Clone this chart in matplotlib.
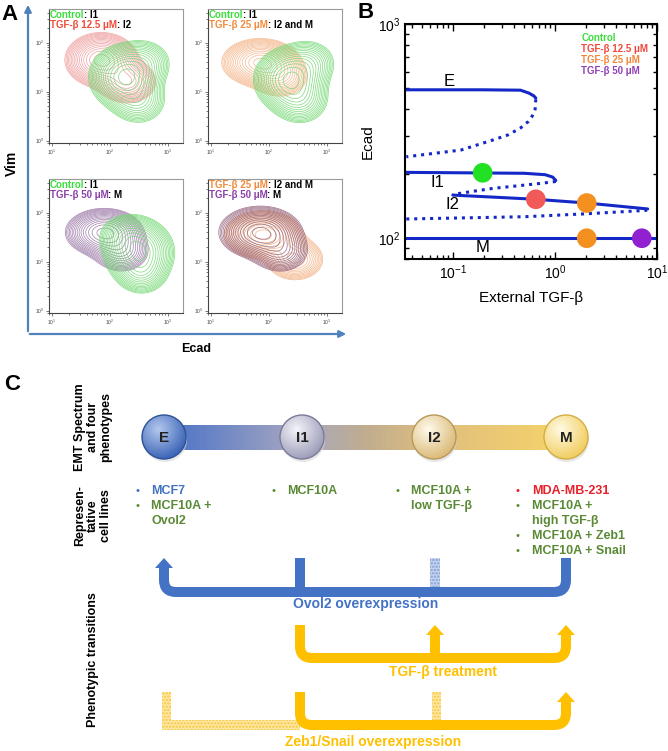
import numpy as np
import matplotlib
matplotlib.use('Agg')
import matplotlib.pyplot as plt
from matplotlib.patches import Circle, Polygon, Rectangle, PathPatch
from matplotlib.path import Path
from matplotlib.colors import LinearSegmentedColormap
from matplotlib.ticker import NullFormatter

plt.rcParams['font.family'] = ['Liberation Sans', 'DejaVu Sans']
plt.rcParams['hatch.linewidth'] = 1.2

W, H = 668, 751

# ---------------- data ----------------
# panel A: density blobs in log10 space (Ecad, Vim): cx, cy, sx, sy, weight
ctrl_tl = [(2.25, 1.3, .28, .3, 1.0), (2.5, .8, .25, .25, .35), (2.6, 1.6, .25, .25, .3)]
tgf12_tl = [(1.85, 1.65, .28, .25, 1.0), (2.3, 1.2, .25, .22, .55)]
ctrl_tr = [(2.35, 1.25, .28, .3, 1.0), (2.55, .8, .25, .25, .35), (2.7, 1.6, .25, .25, .3)]
tgf25_tr = [(1.85, 1.6, .3, .22, 1.0), (2.2, 1.3, .25, .22, .4)]
ctrl_bl = [(2.5, 1.2, .28, .3, 1.0), (2.55, .75, .22, .22, .35), (2.3, 1.55, .25, .22, .35)]
tgf50_bl = [(1.9, 1.6, .3, .22, 1.0), (2.2, 1.2, .25, .22, .4)]
tgf25_br = [(1.9, 1.55, .3, .22, 1.0), (2.45, 1.05, .25, .22, .5)]
tgf50_br = [(1.85, 1.6, .32, .24, 1.0), (2.2, 1.2, .25, .22, .4)]

# panel B: bifurcation branches (External TGF-beta, Ecad)
e_x = [0.034, 0.2, 0.46, 0.556, 0.62, 0.65]
e_y = [493, 493, 491, 476, 462, 451]
u1_x = [0.65, 0.64, 0.6, 0.55, 0.46, 0.35, 0.25, 0.12, 0.035]
u1_y = [445, 400, 372, 351, 327, 304, 288, 258, 240]
i1_x = [0.034, 0.5, 0.8, 0.95, 1.02]
i1_y = [203, 201, 198, 193, 186]
u2_x = [1.02, 0.7, 0.4, 0.25, 0.15, 0.1]
u2_y = [184, 180, 175, 171, 165, 160]
i2_x = [0.1, 0.65, 2.05, 8.1]
i2_y = [159, 152, 146, 137]
u3_x = [0.035, 0.5, 2.0, 8.0]
u3_y = [123, 126, 130, 135]
m_x = [0.034, 10]
m_y = [100, 100]
dot_x = [0.196, 0.65, 2.05, 2.05, 7.1]
dot_y = [202, 152, 146, 100, 100]
dot_c = ['#22e022', '#f25a5a', '#f39020', '#f39020', '#9020d0']

# panel C
phenotypes = ['E', 'I1', 'I2', 'M']
pheno_x = [164, 302, 434, 566]
cell_lines = [
    [('MCF7', '#4472c4'), ('MCF10A +', '#5a8a35'), ('Ovol2', '#5a8a35', False)],
    [('MCF10A', '#5a8a35')],
    [('MCF10A +', '#5a8a35'), ('low TGF-β', '#5a8a35', False)],
    [('MDA-MB-231', '#e8202a'), ('MCF10A +', '#5a8a35'), ('high TGF-β', '#5a8a35', False),
     ('MCF10A + Zeb1', '#5a8a35'), ('MCF10A + Snail', '#5a8a35')],
]
green, red, orange, purple = '#3ddc3d', '#f04a3a', '#f08a3a', '#8a3fa8'

fig = plt.figure(figsize=(W / 100, H / 100), dpi=100)


def px_axes(l, t, r, b):
    return fig.add_axes([l / W, 1 - b / H, (r - l) / W, (b - t) / H])


ov = fig.add_axes([0, 0, 1, 1])
ov.patch.set_visible(False)
ov.axis('off')

# ---------------- panel A ----------------
gx = np.linspace(0.95, 3.26, 220)
gy = np.linspace(-0.05, 2.69, 220)
GX, GY = np.meshgrid(gx, gy)


def density(blobs):
    z = np.zeros_like(GX)
    for cx, cy, sx, sy, w in blobs:
        z += w * np.exp(-0.5 * (((GX - cx) / sx) ** 2 + ((GY - cy) / sy) ** 2))
    return z / z.max()


def two_tone(ax, yfrac, parts):
    t = ax.text(0.005, yfrac, parts[0][0], color=parts[0][1], transform=ax.transAxes,
                fontsize=7, fontweight='bold', va='bottom', ha='left')
    for s, c in parts[1:]:
        t = ax.annotate(s, xy=(1, 0), xycoords=t, color=c, fontsize=7,
                        fontweight='bold', va='bottom', ha='left')


panels = [
    ((49, 9, 183, 143), [(tgf12_tl, '#ee9a9a'), (ctrl_tl, '#72d872')],
     [[('Control', green), (': I1', 'k')], [('TGF-β 12.5 μM', red), (': I2', 'k')]]),
    ((208, 9, 342, 143), [(tgf25_tr, '#f4b488'), (ctrl_tr, '#72d872')],
     [[('Control', green), (': I1', 'k')], [('TGF-β 25 μM', orange), (': I2 and M', 'k')]]),
    ((49, 179, 183, 313), [(tgf50_bl, '#9a76a6'), (ctrl_bl, '#72d872')],
     [[('Control', green), (': I1', 'k')], [('TGF-β 50 μM', purple), (': M', 'k')]]),
    ((208, 179, 342, 313), [(tgf25_br, '#f2b080'), (tgf50_br, '#94607a')],
     [[('TGF-β 25 μM', orange), (': I2 and M', 'k')], [('TGF-β 50 μM', purple), (': M', 'k')]]),
]
levels = np.geomspace(0.08, 0.9, 16)
for box, pops, labels in panels:
    ax = px_axes(*box)
    for blobs, col in pops:
        ax.contour(10 ** GX, 10 ** GY, density(blobs), levels=levels, colors=col,
                   linewidths=0.55, alpha=0.85)
    ax.set_xscale('log')
    ax.set_yscale('log')
    ax.set_xlim(10 ** 0.95, 10 ** 3.26)
    ax.set_ylim(10 ** -0.05, 10 ** 2.69)
    ax.set_xticks([10, 100, 1000])
    ax.set_yticks([1, 10, 100])
    ax.xaxis.set_minor_formatter(NullFormatter())
    ax.yaxis.set_minor_formatter(NullFormatter())
    for s in ax.spines.values():
        s.set_color('#9a9a9a')
        s.set_linewidth(0.8)
    ax.spines['left'].set_color('#444444')
    ax.spines['bottom'].set_color('#444444')
    ax.tick_params(which='both', direction='out', labelsize=3.5, colors='#444444',
                   length=2.2, width=0.5, pad=1)
    ax.tick_params(which='minor', length=1.2)
    two_tone(ax, 0.92, labels[0])
    two_tone(ax, 0.845, labels[1])

ov.annotate('', xy=(28, 2), xytext=(28, 334),
            arrowprops=dict(arrowstyle='-|>', color='#4f81bd', lw=1.6, mutation_scale=10))
ov.annotate('', xy=(349, 334), xytext=(27, 334),
            arrowprops=dict(arrowstyle='-|>', color='#4f81bd', lw=1.6, mutation_scale=10))
ov.text(12, 163, 'Vim', rotation=90, fontsize=10, fontweight='bold', ha='center', va='center')
ov.text(196, 349, 'Ecad', fontsize=9, fontweight='bold', ha='center', va='center')
ov.text(10, 15, 'A', fontsize=16, fontweight='bold', ha='center', va='center')
ov.text(366, 12, 'B', fontsize=16, fontweight='bold', ha='center', va='center')
ov.text(12, 384, 'C', fontsize=16, fontweight='bold', ha='center', va='center')

# ---------------- panel B ----------------
axb = px_axes(405, 24, 657, 259)
blue = '#1428c8'
for xs, ys in [(e_x, e_y), (i1_x, i1_y), (i2_x, i2_y), (m_x, m_y)]:
    axb.plot(xs, ys, color=blue, lw=2.2, solid_capstyle='round')
for xs, ys in [(u1_x, u1_y), (u2_x, u2_y), (u3_x, u3_y)]:
    axb.plot(xs, ys, color=blue, lw=2.2, ls=(0, (1, 1.6)))
axb.scatter(dot_x, dot_y, s=200, c=dot_c, zorder=5, edgecolors='none')
axb.set_xscale('log')
axb.set_yscale('log')
axb.set_xlim(0.034, 10)
axb.set_ylim(80, 1000)
axb.set_xticks([0.1, 1, 10])
axb.set_yticks([100, 1000])
axb.xaxis.set_minor_formatter(NullFormatter())
axb.yaxis.set_minor_formatter(NullFormatter())
axb.tick_params(which='both', direction='in', top=True, right=True, labelsize=10, width=1)
axb.tick_params(which='major', length=5)
axb.tick_params(which='minor', length=3)
for s in axb.spines.values():
    s.set_linewidth(1.5)
axb.set_xlabel('External TGF-β', fontsize=11, labelpad=6)
axb.set_ylabel('Ecad', fontsize=11, labelpad=2)
for lab, lx, ly in [('E', 0.092, 537), ('I1', 0.071, 183), ('I2', 0.1, 143), ('M', 0.197, 91)]:
    axb.text(lx, ly, lab, fontsize=12, ha='center', va='center')
for i, (s, c) in enumerate([('Control', '#3ddc3d'), ('TGF-β 12.5 μM', '#f0483a'),
                            ('TGF-β 25 μM', '#f0883a'), ('TGF-β 50 μM', '#9040b8')]):
    axb.text(0.70, 0.94 - i * 0.047, s, color=c, fontsize=7, fontweight='bold',
             transform=axb.transAxes, va='center', ha='left')

# ---------------- panel C ----------------
bar_cmap = LinearSegmentedColormap.from_list(
    'emt', [(0, '#4a72c8'), (0.343, '#a8a8c0'), (0.5, '#c0ad90'), (0.672, '#dfbe7e'), (1, '#f6d46a')])
ov.imshow(np.linspace(0, 1, 300)[None, :], cmap=bar_cmap, aspect='auto',
          extent=(pheno_x[0], pheno_x[-1], 450, 425), zorder=2)

sphere_cols = [('#b4c8ee', '#3f67b8', '#2f5296'), ('#f4f4fa', '#a0a0bc', '#7a7a96'),
               ('#fffaec', '#dcbc7c', '#b8985a'), ('#fffbe4', '#f2cf64', '#d4ae44')]
u = np.linspace(-1, 1, 90)
U, V = np.meshgrid(u, u)
dist = np.clip(np.sqrt((U + 0.25) ** 2 + (V + 0.35) ** 2) / 1.35, 0, 1)
for name, cx, (c_in, c_out, c_edge) in zip(phenotypes, pheno_x, sphere_cols):
    r = 22
    ov.add_patch(Circle((cx + 1, 440), r, facecolor='#d8d8d8', edgecolor='none', alpha=0.6, zorder=2.5))
    cm = LinearSegmentedColormap.from_list('s', [c_in, c_out])
    im = ov.imshow(dist, cmap=cm, extent=(cx - r, cx + r, 437 + r, 437 - r), aspect='auto',
                   zorder=3, vmin=0, vmax=1, interpolation='bilinear')
    circ = Circle((cx, 437), r, facecolor='none', edgecolor=c_edge, lw=1.0, zorder=4)
    ov.add_patch(circ)
    im.set_clip_path(circ)
    ov.text(cx, 438, name, fontsize=11, fontweight='bold', color='#222222', ha='center',
            va='center', zorder=5)

# representative cell lines
bullet_x = [137, 273, 397, 518]
for bx, entries in zip(bullet_x, cell_lines):
    for k, ent in enumerate(entries):
        y = 491 + 15 * k
        if len(ent) == 2:
            ov.text(bx, y, '•', color=ent[1], fontsize=8, ha='center', va='center')
        ov.text(bx + 14, y, ent[0], color=ent[1], fontsize=9, fontweight='bold',
                ha='left', va='center')

ov.text(93, 427, 'EMT Spectrum\nand four\nphenotypes', rotation=90, fontsize=9, fontweight='bold',
        ha='center', va='center', multialignment='center', linespacing=1.1)
ov.text(93, 516, 'Represen-\ntative\ncell lines', rotation=90, fontsize=9, fontweight='bold',
        ha='center', va='center', multialignment='center', linespacing=1.1)
ov.text(93, 660, 'Phenotypic transitions', rotation=90, fontsize=9, fontweight='bold',
        ha='center', va='center')

bl, yl = '#4472c4', '#ffc000'
lw_band = 7.2


def band(x0, y0, x1, y1, yb, col, r=12):
    verts = [(x0, y0), (x0, yb - r), (x0, yb), (x0 + r, yb), (x1 - r, yb), (x1, yb),
             (x1, yb - r), (x1, y1)]
    codes = [Path.MOVETO, Path.LINETO, Path.CURVE3, Path.CURVE3, Path.LINETO, Path.CURVE3,
             Path.CURVE3, Path.LINETO]
    ov.add_patch(PathPatch(Path(verts, codes), fill=False, edgecolor=col, lw=lw_band,
                           capstyle='butt', joinstyle='miter', zorder=3))


def head(x, tip, col):
    ov.add_patch(Polygon([(x - 9, tip + 10), (x + 9, tip + 10), (x, tip)], closed=True,
                         facecolor=col, edgecolor='none', zorder=3))


def hatched(x, y, w, h, face, dots):
    ov.add_patch(Rectangle((x, y), w, h, facecolor=face, edgecolor=dots, hatch='.....',
                           lw=0, zorder=2))


# Ovol2 overexpression: I1, I2, M -> E
band(pheno_x[0], 568, pheno_x[3], 558, 592, bl)
head(pheno_x[0], 558, bl)
ov.plot([300, 300], [558, 592], color=bl, lw=lw_band, solid_capstyle='butt', zorder=3)
hatched(430, 558, 10, 30, '#c8d5ef', '#7f9bd6')
ov.text(366, 604, 'Ovol2 overexpression', color=bl, fontsize=10, fontweight='bold',
        ha='center', va='center')

# TGF-beta treatment: I1 -> I2, M
band(300, 625, pheno_x[3], 635, 658, yl)
head(pheno_x[3], 625, yl)
ov.plot([435, 435], [635, 658], color=yl, lw=lw_band, solid_capstyle='butt', zorder=3)
head(435, 625, yl)
ov.text(443, 672, 'TGF-β treatment', color=yl, fontsize=10, fontweight='bold',
        ha='center', va='center')

# Zeb1/Snail overexpression: (E), I1, (I2) -> M
hatched(162, 692, 9, 30, '#ffe9a8', '#f7c640')
hatched(162, 720, 138, 10, '#ffe9a8', '#f7c640')
hatched(432, 692, 9, 28, '#ffe9a8', '#f7c640')
band(300, 692, pheno_x[3], 702, 725, yl)
head(pheno_x[3], 692, yl)
ov.text(373, 742, 'Zeb1/Snail overexpression', color=yl, fontsize=10, fontweight='bold',
        ha='center', va='center')

ov.set_xlim(0, W)
ov.set_ylim(H, 0)

fig.savefig('out.png', dpi=100)
